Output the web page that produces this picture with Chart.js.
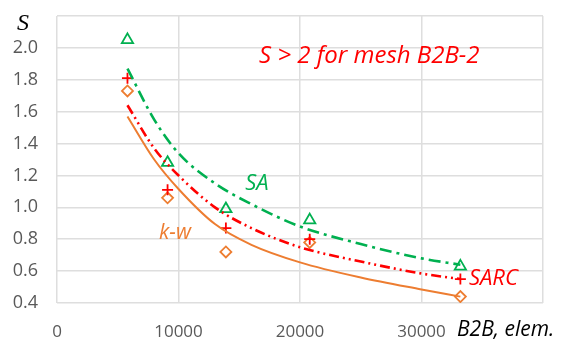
<!DOCTYPE html>
<html>
<head>
<meta charset="utf-8">
<script src="https://cdn.jsdelivr.net/npm/chart.js@4"></script>
<style>
  html, body { margin: 0; padding: 0; background: #fff; }
  #wrap { width: 579px; height: 341px; }
</style>
</head>
<body>
<div id="wrap"><canvas id="chart" width="579" height="341"></canvas></div>
<script>
// measured points, B2B mesh size (elements)
const meshSize = [5800, 9100, 13900, 20800, 33200];
const sSA = [2.05, 1.28, 0.99, 0.92, 0.63];
const sSARC = [1.81, 1.11, 0.87, 0.80, 0.55];
const sKW = [1.73, 1.06, 0.72, 0.78, 0.44];

// trend lines
const trendX = [5800, 8000, 10000, 13000, 16000, 20000, 25000, 30000, 33200];
const trendSA = [1.87, 1.55, 1.34, 1.15, 1.02, 0.88, 0.77, 0.68, 0.64];
const trendSARC = [1.64, 1.37, 1.20, 1.00, 0.87, 0.75, 0.66, 0.585, 0.55];
const trendKW = [1.57, 1.30, 1.115, 0.895, 0.765, 0.655, 0.56, 0.485, 0.44];

const xTicks = [0, 10000, 20000, 30000];
const yTicks = ["0.4", "0.6", "0.8", "1.0", "1.2", "1.4", "1.6", "1.8", "2.0"];

const green = "#00b050";
const red = "#ff0000";
const orange = "#ed7d31";

function pts(xs, ys) {
    return xs.map((x, i) => ({ x: x, y: ys[i] }));
}

function trend(ys, color, dash, width) {
    return {
        data: pts(trendX, ys),
        showLine: true,
        borderColor: color,
        borderWidth: width,
        borderDash: dash,
        pointRadius: 0,
        cubicInterpolationMode: "monotone",
        fill: false
    };
}

function marks(ys, color, style, r) {
    return {
        data: pts(meshSize, ys),
        showLine: false,
        pointStyle: style,
        pointRadius: r,
        pointBorderColor: color,
        pointBackgroundColor: "rgba(0,0,0,0)",
        pointBorderWidth: 1.8
    };
}

// text labels on the plot
const notes = {
    id: "notes",
    afterDatasetsDraw(chart) {
        const ctx = chart.ctx;
        const xs = chart.scales.x;
        const ys = chart.scales.y;
        const area = chart.chartArea;
        ctx.save();
        ctx.textBaseline = "middle";

        ctx.font = "italic 24px 'Open Sans'";
        ctx.fillStyle = red;
        ctx.textAlign = "left";
        ctx.fillText("S > 2 for mesh B2B-2", xs.getPixelForValue(16630), ys.getPixelForValue(1.95));
        ctx.font = "italic 22px 'Open Sans'";
        ctx.fillText("SARC", xs.getPixelForValue(33900), ys.getPixelForValue(0.55));

        ctx.textAlign = "center";
        ctx.fillStyle = green;
        ctx.fillText("SA", xs.getPixelForValue(16460), ys.getPixelForValue(1.15));
        ctx.fillStyle = orange;
        ctx.font = "italic 21px 'Open Sans'";
        ctx.fillText("k-w", xs.getPixelForValue(9710), ys.getPixelForValue(0.84));

        // axis titles
        ctx.fillStyle = "#000";
        ctx.font = "italic 24px 'Liberation Serif'";
        ctx.fillText("S", area.left - 34, area.top + 8);
        ctx.font = "italic 21px 'Open Sans'";
        ctx.textAlign = "left";
        ctx.fillText("B2B, elem.", area.right - 86, area.bottom + 27);
        ctx.restore();
    }
};

new Chart(document.getElementById("chart"), {
    type: "scatter",
    data: {
        datasets: [
            trend(trendSA, green, [12, 5, 3, 5], 2.6),
            trend(trendSARC, red, [10, 4, 2, 4, 2, 4], 2.6),
            trend(trendKW, orange, [], 2),
            marks(sSA, green, "triangle", 6.5),
            marks(sSARC, red, "cross", 5.5),
            marks(sKW, orange, "rectRot", 5.5)
        ]
    },
    options: {
        responsive: false,
        animation: false,
        layout: { padding: { top: 16, right: 36, left: 0, bottom: 0 } },
        plugins: {
            legend: { display: false },
            tooltip: { enabled: false }
        },
        scales: {
            x: {
                type: "linear",
                min: 0,
                max: 40000,
                afterFit: (s) => {
                    s.height = 38;
                    s.paddingLeft = 0;
                    s.paddingRight = 0;
                },
                afterBuildTicks: (s) => {
                    s.ticks = xTicks.concat([40000]).map((v) => ({ value: v }));
                },
                ticks: {
                    padding: 19,
                    color: "#595959",
                    font: { family: "'Open Sans'", size: 17 },
                    callback: (v) => (xTicks.includes(v) ? String(v) : "")
                },
                grid: { color: "#dedede", lineWidth: 1.5, drawTicks: false },
                border: { display: false }
            },
            y: {
                min: 0.4,
                max: 2.2,
                afterFit: (s) => {
                    s.width = 57;
                    s.paddingTop = 0;
                    s.paddingBottom = 0;
                },
                afterBuildTicks: (s) => {
                    s.ticks = yTicks.map(Number).concat([2.2]).map((v) => ({ value: v }));
                },
                ticks: {
                    padding: 19,
                    color: "#595959",
                    font: { family: "'Open Sans'", size: 18 },
                    callback: (v) => {
                        const t = Number(v).toFixed(1);
                        return yTicks.includes(t) ? t : "";
                    }
                },
                grid: { color: "#dedede", lineWidth: 1.5, drawTicks: false },
                border: { display: false }
            }
        }
    },
    plugins: [notes]
});
</script>
</body>
</html>
